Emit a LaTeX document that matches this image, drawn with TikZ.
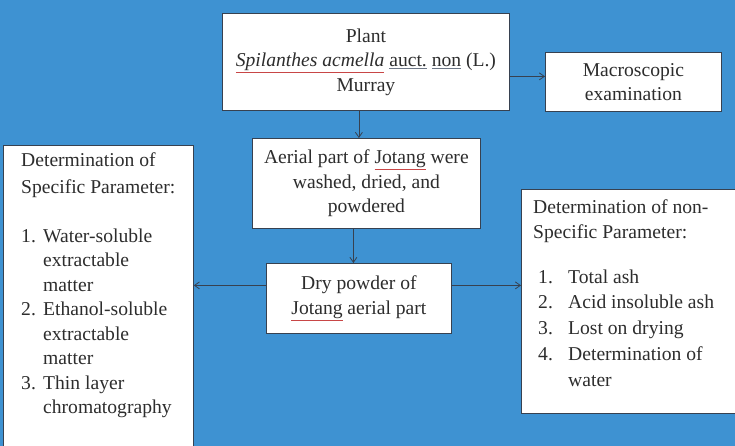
\documentclass[tikz,border=0pt]{standalone}
\usepackage{fontspec}
\setmainfont{Liberation Serif}
\usetikzlibrary{arrows.meta,calc}
\definecolor{bg}{RGB}{62,146,210}
\definecolor{edge}{RGB}{55,65,80}
\definecolor{txt}{RGB}{45,45,45}
\definecolor{squig}{RGB}{200,70,70}
\definecolor{dotul}{RGB}{110,120,135}
\newcommand{\redul}[1]{\textcolor{squig}{\underline{\textcolor{txt}{#1}}}}
\newcommand{\grayul}[1]{\textcolor{dotul}{\underline{\textcolor{txt}{#1}}}}
\begin{document}
\begin{tikzpicture}[x=1pt,y=-1pt,
  box/.style={draw=edge,line width=0.8pt,fill=white,anchor=north west,inner sep=0pt,align=center,text=txt,font=\fontsize{19.6}{24.5}\selectfont},
  lbl/.style={inner sep=0pt,anchor=base west,text=txt,font=\fontsize{19.6}{24.5}\selectfont},
  arr/.style={draw=edge,line width=0.8pt,-{Straight Barb[length=5pt,width=7pt]}}]
\fill[bg] (0,0) rectangle (735,446);
\useasboundingbox (0,0) rectangle (735,446);
\clip (0,0) rectangle (735,446);

\node[box,minimum width=287pt,minimum height=97pt] (plant) at (222,13)
  {Plant\\ \redul{\textit{Spilanthes acmella}} \grayul{auct.} \grayul{non} (L.)\\Murray};
\node[box,minimum width=176pt,minimum height=59pt] (macro) at (545,52)
  {Macroscopic\\examination};
\node[box,minimum width=228pt,minimum height=90pt] (aerial) at (252,138)
  {Aerial part of \redul{Jotang} were\\washed, dried, and\\powdered};
\node[box,minimum width=185pt,minimum height=70pt] (dry) at (266,263)
  {Dry powder of\\\redul{Jotang} aerial part};
\node[box,minimum width=190pt,minimum height=320pt] (spec) at (3,145) {};
\node[box,minimum width=220pt,minimum height=224pt] (nonspec) at (521,189) {};

\node[lbl] (spechead) at (21,167)
  {\renewcommand{\arraystretch}{1.1}\begin{tabular}[t]{@{}l@{}}Determination of\\Specific Parameter:\end{tabular}};
\node[lbl] (speclist) at (21,242)
  {\begin{tabular}[t]{@{}p{22pt}@{}l@{}}1. & Water-soluble\\ & extractable\\ & matter\\
   2. & Ethanol-soluble\\ & extractable\\ & matter\\
   3. & Thin layer\\ & chromatography\end{tabular}};
\node[lbl] (nonhead) at (533,214)
  {\begin{tabular}[t]{@{}l@{}}Determination of non-\\Specific Parameter:\end{tabular}};
\node[lbl] (nonlist) at (538,283)
  {\renewcommand{\arraystretch}{1.06}\begin{tabular}[t]{@{}p{30pt}@{}l@{}}1. & Total ash\\
   2. & Acid insoluble ash\\ 3. & Lost on drying\\ 4. & Determination of\\ & water\end{tabular}};

\coordinate (m1) at ([yshift=5.5pt]macro.west);
\draw[arr] (m1 -| plant.east) -- (m1);
\coordinate (p1) at ([xshift=-7pt]plant.south);
\draw[arr] (p1) -- (p1 |- aerial.north);
\coordinate (a1) at ([xshift=-13pt]aerial.south);
\draw[arr] (a1) -- (a1 |- dry.north);
\coordinate (d1) at ([yshift=13pt]dry.west);
\draw[arr] (d1) -- (d1 -| spec.east);
\coordinate (d2) at ([yshift=13pt]dry.east);
\draw[arr] (d2) -- (d2 -| nonspec.west);
\end{tikzpicture}
\end{document}
